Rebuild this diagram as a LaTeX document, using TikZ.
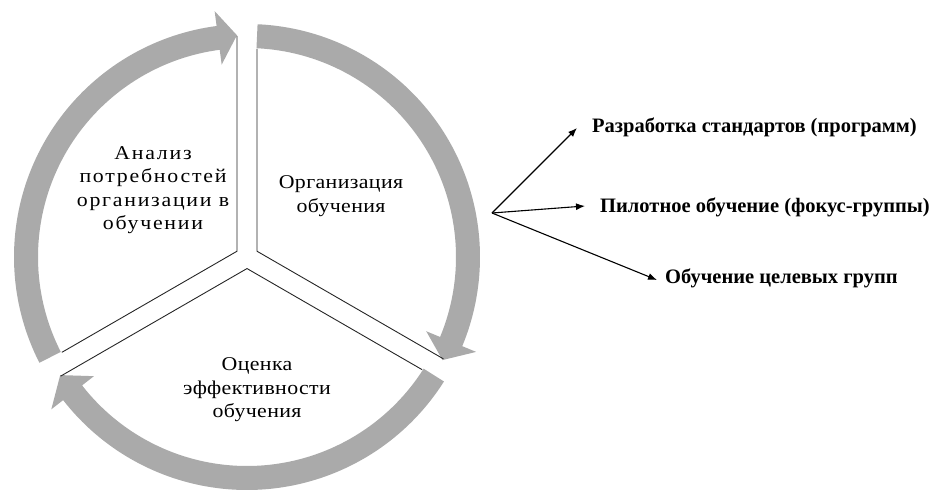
\documentclass[tikz,border=0pt]{standalone}
\usepackage{fontspec}
\setmainfont{Liberation Serif}
\newfontfamily\lblfont{Liberation Serif}[FakeStretch=1.12,LetterSpace=2]
\newfontfamily\wlblfont{Liberation Serif}[FakeStretch=1.12,LetterSpace=9]
\usetikzlibrary{calc,arrows.meta}
\definecolor{arcgray}{RGB}{170,170,170}
\begin{document}
\begin{tikzpicture}[x=1pt,y=1pt,
  band/.style={fill=arcgray,draw=none},
  divider/.style={draw=black!85,line width=0.9pt},
  lbl/.style={font=\lblfont\fontsize{19.5}{23.5}\selectfont,align=center,inner sep=0pt},
  widelbl/.style={font=\wlblfont\fontsize{19.5}{23.5}\selectfont,align=center,inner sep=0pt},
  side/.style={font=\bfseries\fontsize{20.5}{22}\selectfont,anchor=west,inner sep=0pt},
  conn/.style={draw=black,line width=1.1pt,-{Latex[length=9pt,width=7pt]}}]
\useasboundingbox (0,0) rectangle (936,491);
\coordinate (C) at (247,234);
% arc arrow 1 (left, up to top)
\fill[band] ($(C)+(207:233)$) arc[start angle=207,end angle=97.5,radius=233]
  -- ($(C)+(97.5:248)$) -- ($(C)+(92.6:222)$) -- ($(C)+(97.5:194)$)
  -- ($(C)+(97.5:209)$) arc[start angle=97.5,end angle=207,radius=209] -- cycle;
% arc arrow 2 (right, down)
\fill[band] ($(C)+(87.4:233)$) arc[start angle=87.4,end angle=-22.5,radius=233]
  -- ($(C)+(-22.5:248)$) -- ($(C)+(-27.8:221)$) -- ($(C)+(-22.5:194)$)
  -- ($(C)+(-22.5:209)$) arc[start angle=-22.5,end angle=87.4,radius=209] -- cycle;
% arc arrow 3 (bottom, to left)
\fill[band] ($(C)+(-32.3:233)$) arc[start angle=-32.3,end angle=-142.1,radius=233]
  -- ($(C)+(-142.1:248)$) -- ($(C)+(-147.7:221)$) -- ($(C)+(-142.1:194)$)
  -- ($(C)+(-142.1:209)$) arc[start angle=-142.1,end angle=-32.3,radius=209] -- cycle;
% dividers
\coordinate (cl) at ($(C)+(150:11.547)$);
\coordinate (cr) at ($(C)+(30:11.547)$);
\coordinate (cb) at ($(C)+(270:11.547)$);
\coordinate (lt) at ($(C)+(90:221)+(180:10)$);
\coordinate (rt) at ($(C)+(90:208)+(0:10)$);
\coordinate (ll) at ($(C)+(210:208)+(120:10)$);
\coordinate (bl) at ($(C)+(210:221)+(300:10)$);
\coordinate (rr) at ($(C)+(330:221)+(60:10)$);
\coordinate (br) at ($(C)+(330:208)+(240:10)$);
\draw[divider] (lt) -- (cl) -- (ll);
\draw[divider] (rt) -- (cr) -- (rr);
\draw[divider] (bl) -- (cb) -- (br);
% sector labels
\node[widelbl] (s1) at (153,301) {Анализ\\потребностей\\организации в\\обучении};
\node[lbl] (s2) at (341,295) {Организация\\обучения};
\node[lbl] (s3) at (257,101) {Оценка\\эффективности\\обучения};
% side list
\coordinate (O) at (492,278);
\node[side] (t1) at (592,364) {Разработка стандартов (программ)};
\node[side] (t2) at (600,284) {Пилотное обучение (фокус-группы)};
\node[side] (t3) at (665,213) {Обучение целевых групп};
\coordinate (a1) at ($(t1.west)+(-15,-1)$);
\coordinate (a2) at ($(t2.west)+(-15,1)$);
\coordinate (a3) at ($(t3.west)+(-8,-2)$);
\draw[conn] (O) -- (a1);
\draw[conn] (O) -- (a2);
\draw[conn] (O) -- (a3);
\end{tikzpicture}
\end{document}
